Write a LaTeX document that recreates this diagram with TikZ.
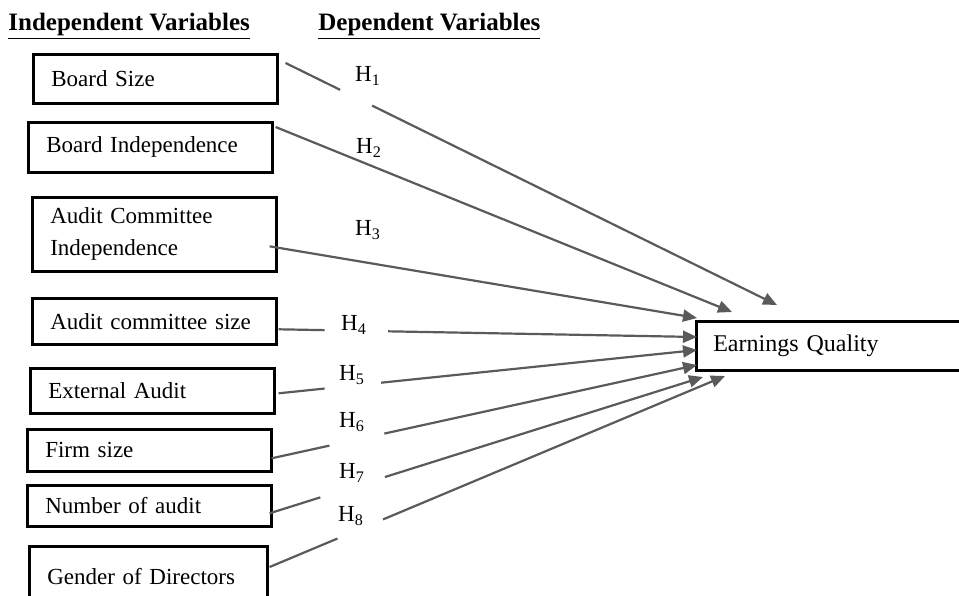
\documentclass[tikz,border=0pt]{standalone}
\usepackage{fontspec}
\setmainfont{Liberation Serif}
\usepackage{xcolor}
\usepackage{tikz}
\usetikzlibrary{arrows.meta,positioning,calc}

\definecolor{linkgray}{RGB}{90,90,90}

\begin{document}
\begin{tikzpicture}[
                    x=0.5pt, y=-0.5pt,
                    every node/.style={font=\fontsize{11.5}{16}\selectfont},
                    heading/.style={anchor=base west, inner sep=0pt, font=\fontsize{12.5}{15}\selectfont\bfseries},
                    var/.style={draw, line width=1.3pt, anchor=north west, inner xsep=9pt, inner ysep=2pt, text width=#1, align=left},
                    var/.default=104pt,
                    hyp/.style={inner sep=1pt},
                    link/.style={draw=linkgray, line width=1.1pt},
                    rel/.style={link, -{Triangle[length=7pt,width=6pt]}}
                ]
                    \useasboundingbox (0,0) rectangle (959,595);
                    \clip (0,0) rectangle (959,595);

                    % Headings
                    \node[heading] (IndVar) at (8,30) {\underline{Independent Variables}};
                    \node[heading] (DepVar) at (318,30) {\underline{Dependent Variables}};

                    % Variables
                    \node[var, minimum height=24.5pt] (BoardSize) at (32,53) {Board Size};
                    \node[var, minimum height=25pt] (BoardInd) at (27,121) {Board Independence};
                    \node[var, minimum height=37pt] (ACInd) at (31,196) {Audit Committee\\ Independence};
                    \node[var, minimum height=23pt] (ACSize) at (31,297) {Audit committee size};
                    \node[var, minimum height=22.5pt] (ExtAudit) at (29,367) {External Audit};
                    \node[var, minimum height=21pt] (FirmSize) at (26,428) {Firm size};
                    \node[var, minimum height=20.5pt] (NumAudit) at (26,484) {Number of audit};
                    \node[var=101pt, minimum height=30pt] (Gender) at (28,545) {Gender of Directors};
                    \node[var=122pt, minimum height=24.5pt, inner xsep=8.5pt, font=\fontsize{12}{15}\selectfont] (EQ) at (695,320) {Earnings Quality};

                    % Connector ends
                    \coordinate (s1) at ([shift={(7,10)}]BoardSize.north east);
                    \coordinate (s2) at ([shift={(2,6)}]BoardInd.north east);
                    \coordinate (s3) at ([shift={(-8,12)}]ACInd.east);
                    \coordinate (s4) at ([shift={(1,8)}]ACSize.east);
                    \coordinate (s5) at ([shift={(3,2.5)}]ExtAudit.east);
                    \coordinate (s6) at ([shift={(-1,8)}]FirmSize.east);
                    \coordinate (s7) at ([shift={(-3,7.5)}]NumAudit.east);
                    \coordinate (s8) at ([shift={(1,22)}]Gender.north east);
                    \coordinate (t1) at ([shift={(82,-15)}]EQ.north west);
                    \coordinate (t2) at ([shift={(37,-8)}]EQ.north west);
                    \coordinate (t3) at ([shift={(2,-2)}]EQ.north west);
                    \coordinate (t4) at ([shift={(2,17)}]EQ.north west);
                    \coordinate (t5) at ([shift={(2,30)}]EQ.north west);
                    \coordinate (t6) at ([shift={(2,45)}]EQ.north west);
                    \coordinate (t7) at ([shift={(8,57)}]EQ.north west);
                    \coordinate (t8) at ([shift={(30,56)}]EQ.north west);

                    % Hypotheses
                    \foreach \i/\a/\b in {1/0.111/0.176, 2/0.5/0.5, 3/0.5/0.5, 4/0.110/0.262, 5/0.110/0.245, 6/0.136/0.265, 7/0.117/0.266, 8/0.149/0.249} {
                        \draw[link] (s\i) -- ($(s\i)!\a!(t\i)$);
                        \draw[rel] ($(s\i)!\b!(t\i)$) -- (t\i);
                    }
                    \node[hyp] (H1) at (368,76) {H\textsubscript{1}};
                    \node[hyp] (H2) at (369,148) {H\textsubscript{2}};
                    \node[hyp] (H3) at (368,230) {H\textsubscript{3}};
                    \node[hyp] (H4) at (354,325) {H\textsubscript{4}};
                    \node[hyp] (H5) at (352,375) {H\textsubscript{5}};
                    \node[hyp] (H6) at (352,422) {H\textsubscript{6}};
                    \node[hyp] (H7) at (352,473) {H\textsubscript{7}};
                    \node[hyp] (H8) at (351,516) {H\textsubscript{8}};
                \end{tikzpicture}
\end{document}
